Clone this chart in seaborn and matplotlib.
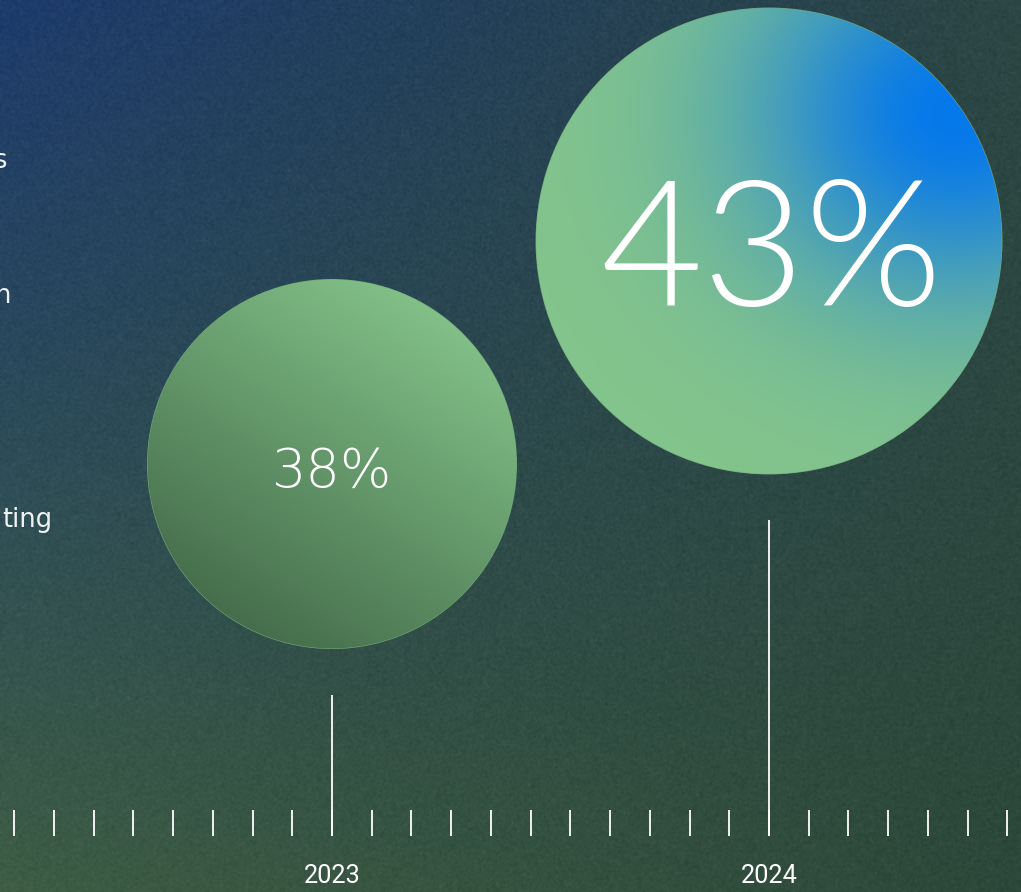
import numpy as np
import pandas as pd
import matplotlib.pyplot as plt
import seaborn as sns
from matplotlib.patches import Ellipse
from matplotlib.ticker import MultipleLocator

# data
years = [2023, 2024]
share = [38, 43]
share_labels = ['38%', '43%']
year_labels = ['2023', '2024']
# category names are cut off by the left edge, only their endings show
side_labels = ['s', 'n', 'ting']

df = pd.DataFrame({'year': years, 'share': share, 'label': share_labels})

sns.set_theme(style='white')
plt.rcParams['font.family'] = ['Roboto', 'DejaVu Sans']

W, H = 1021, 892
fig = plt.figure(figsize=(W / 100, H / 100), dpi=100)
ax = fig.add_axes([0, 0, 1, 1])

# scales: 437 px per year, 44.6 px per percentage point
px_x, px_y = 437.0, 44.6
x0, x1 = 2023 - 332 / px_x, 2023 + (W - 332) / px_x
y0, y1 = 38 - (H - 464) / px_y, 43 + 241 / px_y
ax.set_xlim(x0, x1)
ax.set_ylim(y0, y1)

# background gradient (blue top-left -> green bottom) with a little grain
gy, gx = np.mgrid[0:1:446j, 0:1:511j]
tl = np.array([29, 59, 108]) / 255
tr = np.array([44, 70, 68]) / 255
bl = np.array([62, 93, 68]) / 255
br = np.array([44, 72, 58]) / 255
bg = ((1 - gx) * (1 - gy))[..., None] * tl + (gx * (1 - gy))[..., None] * tr \
    + ((1 - gx) * gy)[..., None] * bl + (gx * gy)[..., None] * br
grain = np.random.default_rng(3).normal(0, 0.012, bg.shape[:2])
bg = np.clip(bg + grain[..., None], 0, 1)
ax.imshow(bg, extent=[x0, x1, y0, y1], aspect='auto', origin='upper',
          interpolation='bilinear', zorder=0)

# bubbles through seaborn's size scale
sns.scatterplot(data=df, x='year', y='share', size='share', sizes=(70970, 113030),
                color='#6fa877', linewidth=0, legend=False, ax=ax, zorder=2)
coll = ax.collections[-1]
sizes = coll.get_sizes()
offsets = coll.get_offsets()


def small_fill(u, v):
    t = np.clip((0.55 * u + 0.85 * v + 1.0) / 2.0, 0, 1)
    dark = np.array([70, 110, 76]) / 255
    light = np.array([130, 192, 136]) / 255
    return dark + t[..., None] * (light - dark)


def big_fill(u, v):
    d = np.hypot((u - 0.8) * 0.9, v - 0.55)
    w = np.exp(-(d / 0.8) ** 2)
    green = np.array([132, 196, 140]) / 255
    blue = np.array([5, 120, 235]) / 255
    return green + w[..., None] * (blue - green)


fills = [small_fill, big_fill]
fonts = [('DejaVu Sans', 200, 39), ('Lato', 300, 127)]
gu, gv = np.meshgrid(np.linspace(-1, 1, 300), np.linspace(-1, 1, 300))
tops = []
for i, (s, (cx, cy)) in enumerate(zip(sizes, offsets)):
    r = np.sqrt(s) / 2 * 100 / 72
    rx, ry = r / px_x, r / px_y
    img = fills[i](gu, gv)
    im = ax.imshow(img, extent=[cx - rx, cx + rx, cy - ry, cy + ry], origin='lower',
                   aspect='auto', interpolation='bicubic', zorder=2.5)
    clip = Ellipse((cx, cy), 2 * rx - 1.2 / px_x, 2 * ry - 1.2 / px_y, transform=ax.transData)
    im.set_clip_path(clip)
    tops.append(cy - ry - 46 / px_y)
    fam, wt, fs = fonts[i]
    em = fs * 100 / 72
    ax.annotate(df['label'][i], (cx, cy), xytext=(3 * i, -(0.345 * em + 4)),
                textcoords='offset pixels', ha='center', va='baseline',
                fontsize=fs, fontweight=wt, family=[fam, 'DejaVu Sans'],
                color='white', zorder=4)

# timeline axis
y_axis = y0 + (H - 836) / px_y
ax.vlines(df['year'], y_axis, tops, color='white', lw=1.3, zorder=3)
ax.spines['bottom'].set_position(('data', y_axis))
for sp in ax.spines.values():
    sp.set_visible(False)
ax.set_xticks(years, labels=year_labels)
ax.xaxis.set_minor_locator(MultipleLocator(1 / 11))
ax.tick_params(axis='x', which='both', direction='in', length=18.7, width=1.3,
               color='white', bottom=True)
ax.tick_params(axis='x', which='major', labelsize=18.2, labelcolor='white', pad=20.5)
ax.set_yticks([])
ax.set_xlabel('')
ax.set_ylabel('')

# cut-off category labels at the left edge
for lab, xr, yb in zip(side_labels, [7, 11, 52], [168, 303, 527]):
    fig.text(xr / W, 1 - yb / H, lab, ha='right', va='baseline', fontsize=18.5,
             color='#eef2f2', family=['DejaVu Sans'])

fig.savefig('out.png', dpi=100)
